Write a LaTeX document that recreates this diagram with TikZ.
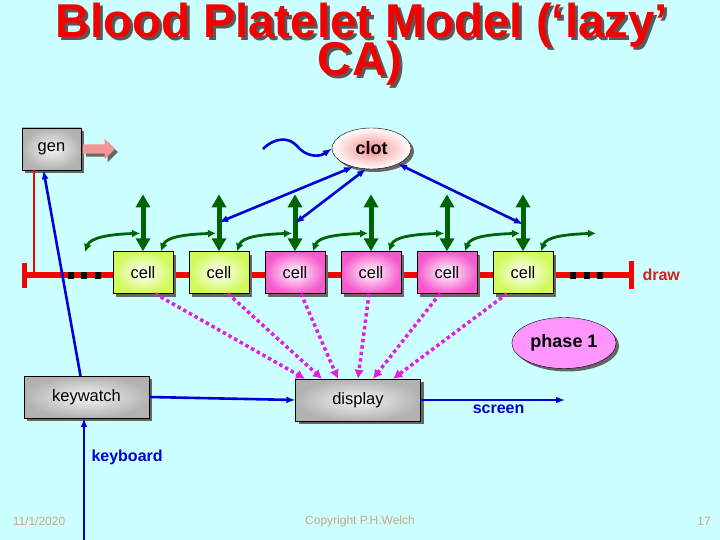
\documentclass[tikz,border=0pt]{standalone}
\usepackage{fontspec}
\setmainfont{Liberation Sans}
\usetikzlibrary{arrows.meta, positioning, calc, shapes.geometric, shapes.arrows,
  shadows}
\definecolor{slidebg}{RGB}{204,255,255}
\definecolor{titlered}{RGB}{245,0,0}
\definecolor{drawred}{RGB}{215,30,30}
\definecolor{busred}{RGB}{250,0,0}
\definecolor{linkblue}{RGB}{0,0,215}
\definecolor{gridgreen}{RGB}{0,100,0}
\definecolor{feedpink}{RGB}{225,30,225}
\definecolor{cellgreen}{RGB}{208,250,90}
\definecolor{cellpink}{RGB}{245,90,205}
\definecolor{clotpink}{RGB}{245,140,140}
\definecolor{phasepink}{RGB}{255,150,255}
\definecolor{genpink}{RGB}{242,150,150}
\definecolor{footbrown}{RGB}{205,165,125}

\begin{document}
\begin{tikzpicture}[x=1pt, y=-1pt,
    shadowed/.style={drop shadow={shadow xshift=3pt, shadow yshift=-3pt,
      fill=black!60, opacity=1}},
    procbox/.style={draw, shade, inner color=black!4, outer color=black!30,
      shadowed, minimum height=42pt, font=\fontsize{16.5}{18}\selectfont},
    cellbox/.style={draw, shade, inner color=white, minimum width=60pt,
      minimum height=42pt, shadowed, font=\fontsize{16.5}{18}\selectfont},
    blob/.style={ellipse, draw, shadowed, font=\fontsize{18}{20}\selectfont\bfseries},
    lbl/.style={font=\fontsize{16}{18}\selectfont\bfseries},
    heading/.style={font=\fontsize{47.5}{40}\selectfont\bfseries, anchor=base,
      inner sep=0pt},
    blink/.style={linkblue, line width=2.6pt, -{Latex[length=9pt,width=7pt]}},
    bboth/.style={blink, {Latex[length=9pt,width=7pt]}-{Latex[length=9pt,width=7pt]}},
    updown/.style={gridgreen, line width=5pt,
      {Triangle[length=13pt,width=14pt]}-{Triangle[length=13pt,width=14pt]}},
    hop/.style={gridgreen, line width=2.8pt,
      {Latex[length=8pt,width=8pt]}-{Latex[length=8pt,width=8pt]}},
    feed/.style={feedpink, line width=3.5pt, dash pattern=on 3.5pt off 3pt,
      -{Latex[length=9pt,width=10pt]}},
    foot/.style={text=footbrown, font=\fontsize{12}{13}\selectfont}]
  \fill[slidebg] (0,0) rectangle (720,540);
  \useasboundingbox (0,0) rectangle (720,540);

  \foreach \dx/\col in {3/black!65, 0/titlered} {
    \node[heading, text=\col, text depth=0pt] (title1) at (362+\dx,38+\dx)
      {Blood Platelet Model (‘lazy’};
    \node[heading, text=\col, text height=34pt] (title2) at (360+\dx,76+\dx) {CA)};
  }

  \node[procbox, minimum width=59pt] (gen) at (51.5,149) {gen};
  \node[single arrow, fill=genpink, shadowed, inner sep=0pt, text height=4.5pt,
    text depth=4.5pt, single arrow head extend=5.5pt, minimum height=32pt,
    anchor=west] (genout) at ([xshift=1.5pt]gen.east) {};
  \node[procbox, minimum width=125pt] (keywatch) at (86.5,397) {keywatch};
  \node[procbox, minimum width=125pt] (display) at (358,400) {display};
  \node[blob, shade, inner color=clotpink, outer color=white, minimum width=79pt,
    minimum height=41pt] (clot) at (371.5,148.5) {clot};
  \node[blob, fill=phasepink, minimum width=98pt, minimum height=51pt]
    (phase) at (564,343) {phase 1};

  % the chain of cells
  \coordinate (busL) at (22,275);
  \coordinate (busR) at (634,275);
  \coordinate (tap) at (34,275);
  \draw[busred, line width=2.5pt] (gen.south -| tap) -- (tap);
  \draw[busred, line width=6.5pt,
    {Bar[width=25pt,line width=5pt]}-{Bar[width=28pt,line width=5pt]}] (busL) -- (busR);
  \foreach \x in {71,84,98,573,587,600}
    \fill (\x-3,271.5) rectangle +(6,7);
  \node[lbl, text=drawred, right=5pt of busR] (drawlbl) {draw};

  \foreach \col [count=\i] in {cellgreen,cellgreen,cellpink,cellpink,cellpink,cellgreen}
    \node[cellbox, outer color=\col] (c\i) at ({143+76*(\i-1)},272.5) {cell};

  \foreach \i in {1,...,6}
    \draw[updown] (c\i.north) -- ([yshift=57pt]c\i.north);
  \coordinate (hop0) at (85,252);
  \draw[hop] (hop0) .. controls +(5,-14) and +(-32,1) .. ([xshift=-3pt,yshift=18pt]c1.north);
  \foreach \i in {1,...,6}
    \draw[hop] ([xshift=18pt]c\i.north) .. controls +(5,-14) and +(-32,1)
      .. ([xshift=73pt,yshift=18pt]c\i.north);

  \coordinate (wave) at (263,149);
  \draw[blink] (wave) .. controls (275,137) and (289,137) .. (297,146)
    .. controls (305,156) and (318,158) .. (clot.west);
  \draw[bboth] (clot.225) -- ([yshift=29pt]c2.north);
  \draw[bboth] (clot.255) -- ([yshift=28pt]c3.north);
  \draw[bboth] (clot.-30) -- ([yshift=27pt]c6.north);

  \foreach \i/\a/\b in {1/12/-53, 2/9/-36, 3/6/-20, 4/-2/0, 5/-7/15, 6/-16/35}
    \draw[feed] ([xshift=\a pt]c\i.south) -- ([xshift=\b pt]display.north);

  \draw[blink] ([xshift=-6pt]keywatch.north) -- ([xshift=-8pt]gen.south);
  \draw[blink] (keywatch.east) -- (display.west);
  \coordinate (scr) at (565,400);
  \draw[blink] (display.east) -- node[lbl, below, text=linkblue, pos=.54] (scrlbl) {screen} (scr);
  \coordinate (kbd) at (84,540);
  \draw[blink] (kbd) -- (kbd |- keywatch.south);
  \node[lbl, text=linkblue, anchor=west] (kbdlbl) at (88,457) {keyboard};

  \node[foot] (date) at (39,521) {11/1/2020};
  \node[foot] (copy) at (360,521) {Copyright P.H.Welch};
  \node[foot] (page) at (704,521) {17};
\end{tikzpicture}
\end{document}
